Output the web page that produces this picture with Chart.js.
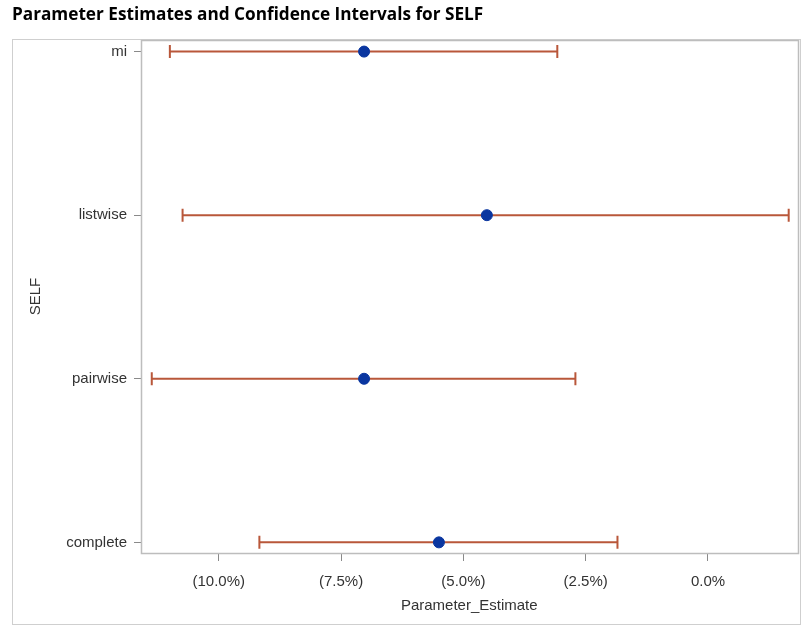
<!DOCTYPE html>
<html>
<head>
<meta charset="utf-8">
<script src="https://cdn.jsdelivr.net/npm/chart.js@4/dist/chart.umd.min.js"></script>
<style>
  html, body { margin: 0; padding: 0; background: #fff; }
  #wrap { width: 806px; height: 627px; }
</style>
</head>
<body>
<div id="wrap"><canvas id="c" width="806" height="627"></canvas></div>
<script>
// Missing-data methods, listed top to bottom
const categories = ['mi', 'listwise', 'pairwise', 'complete'];
// Point estimates (percent)
const estimates = [-7.03, -4.52, -7.03, -5.50];
// Lower and upper confidence limits (percent)
const lowerCL = [-11.00, -10.74, -11.37, -9.17];
const upperCL = [-3.08, 1.65, -2.71, -1.85];
// Tick positions on the estimate axis (percent)
const xTickValues = [-10, -7.5, -5, -2.5, 0];

const ciColor = '#B9573A';
const dotColor = '#0A36A0';
const axisFont = { family: "'Liberation Sans', Arial, sans-serif", size: 15 };

function pct(v) {
  const s = Math.abs(v).toFixed(1) + '%';
  return v < -1e-9 ? '(' + s + ')' : s;
}

// One line dataset per interval, capped with vertical line markers
const ciSets = categories.map((name, i) => ({
  label: name + ' CI',
  data: [{ x: lowerCL[i], y: i }, { x: upperCL[i], y: i }],
  showLine: true,
  borderColor: ciColor,
  borderWidth: 2,
  pointStyle: 'line',
  pointRotation: 90,
  pointRadius: 6.5,
  pointHoverRadius: 6.5,
  pointBorderColor: ciColor,
  pointBorderWidth: 2,
  order: 2
}));

const estSet = {
  label: 'Parameter_Estimate',
  data: estimates.map((v, i) => ({ x: v, y: i })),
  pointStyle: 'circle',
  pointRadius: 5.5,
  pointHoverRadius: 5.5,
  backgroundColor: dotColor,
  borderColor: dotColor,
  borderWidth: 1,
  showLine: false,
  order: 1
};

// Outer panel border and full frame around the plot area
const framePlugin = {
  id: 'frame',
  beforeDraw(chart) {
    const ctx = chart.ctx;
    ctx.save();
    ctx.fillStyle = '#fff';
    ctx.fillRect(0, 0, chart.width, chart.height);
    ctx.strokeStyle = '#cfcfcf';
    ctx.lineWidth = 1;
    ctx.strokeRect(12.5, 39.5, 788, 585);
    ctx.restore();
  },
  beforeDatasetsDraw(chart) {
    const a = chart.chartArea;
    const ctx = chart.ctx;
    ctx.save();
    ctx.strokeStyle = '#bdbdbd';
    ctx.lineWidth = 1.5;
    ctx.strokeRect(Math.round(a.left) + 0.5, Math.round(a.top) + 0.5,
                   Math.round(a.right - a.left), Math.round(a.bottom - a.top));
    ctx.restore();
  }
};

new Chart(document.getElementById('c'), {
  type: 'scatter',
  data: { datasets: [...ciSets, estSet] },
  options: {
    responsive: false,
    animation: false,
    layout: { padding: { left: 12, right: 6, top: 0, bottom: 0 } },
    plugins: {
      legend: { display: false },
      tooltip: { enabled: false },
      title: {
        display: true,
        text: 'Parameter Estimates and Confidence Intervals for SELF',
        align: 'start',
        color: '#000',
        font: { family: "'Open Sans', Lato, sans-serif", weight: 'bold', size: 17.2 },
        padding: { top: 5, bottom: 14.5 }
      }
    },
    scales: {
      x: {
        type: 'linear',
        min: -11.59,
        max: 1.83,
        afterBuildTicks(scale) { scale.ticks = xTickValues.map(v => ({ value: v })); },
        afterFit(scale) { scale.height = 74; },
        ticks: {
          callback: v => pct(v),
          color: '#333',
          font: axisFont,
          padding: 12,
          maxRotation: 0,
          autoSkip: false
        },
        grid: { drawOnChartArea: false, drawTicks: true, tickLength: 8, color: '#8a8a8a' },
        border: { display: true, color: '#bdbdbd' },
        title: {
          display: true,
          text: 'Parameter_Estimate',
          color: '#333',
          font: axisFont,
          padding: { top: 0, bottom: 12 }
        }
      },
      y: {
        type: 'linear',
        reverse: true,
        min: -0.07,
        max: 3.065,
        afterBuildTicks(scale) { scale.ticks = categories.map((c, i) => ({ value: i })); },
        afterFit(scale) { scale.width = 129; },
        ticks: {
          callback: v => categories[v],
          color: '#333',
          font: axisFont,
          padding: 7,
          autoSkip: false
        },
        grid: { drawOnChartArea: false, drawTicks: true, tickLength: 7, color: '#8a8a8a' },
        border: { display: true, color: '#bdbdbd' },
        title: {
          display: true,
          text: 'SELF',
          color: '#333',
          font: axisFont,
          padding: { top: 15, bottom: 0 }
        }
      }
    }
  },
  plugins: [framePlugin]
});
</script>
</body>
</html>
